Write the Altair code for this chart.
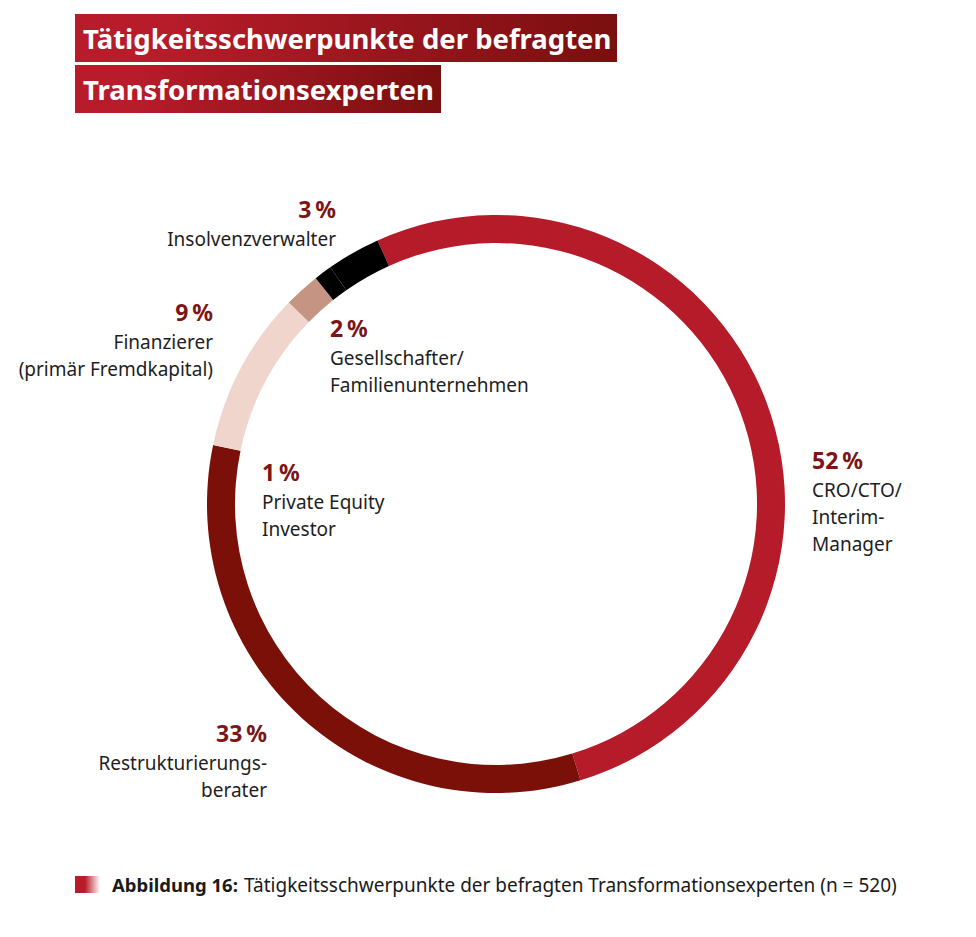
import math
import altair as alt
import pandas as pd

# ---- data -------------------------------------------------------------
categories = [
    "CRO/CTO/Interim-Manager",
    "Restrukturierungsberater",
    "Finanzierer (primär Fremdkapital)",
    "Gesellschafter/Familienunternehmen",
    "Private Equity Investor",
    "Insolvenzverwalter",
]
shares = [52, 33, 9, 2, 1, 3]
label_lines = [
    "CRO/CTO/\nInterim-\nManager",
    "Restrukturierungs-\nberater",
    "Finanzierer\n(primär Fremdkapital)",
    "Gesellschafter/\nFamilienunternehmen",
    "Private Equity\nInvestor",
    "Insolvenzverwalter",
]
slice_colors = ["#B61B29", "#7B1009", "#F0D5CC", "#C69483", "#000000", "#000000"]

title_lines = ["Tätigkeitsschwerpunkte der befragten", "Transformationsexperten"]
caption_bold = "Abbildung 16:"
caption_text = "Tätigkeitsschwerpunkte der befragten Transformationsexperten (n = 520)"

df = pd.DataFrame({
    "cat": categories,
    "share": shares,
    "order": list(range(len(categories))),
    "pct": [f"{s}\u2009%" for s in shares],
    "name": label_lines,
})

# ---- layout (not data) ------------------------------------------------
W, H = 976, 937
CX, CY = 496, 504
R_OUT, R_IN = 289, 261
START = math.radians(335.8)
FONT = "Noto Sans"
PCT_COLOR = "#7D1416"
TXT_COLOR = "#1E1E1E"
RED1, RED2 = "#B81C2B", "#7A0F0F"

anchors = {
    categories[0]: (812, 469, "left"),
    categories[1]: (267, 742, "right"),
    categories[2]: (213, 321, "right"),
    categories[3]: (330, 337, "left"),
    categories[4]: (262, 481, "left"),
    categories[5]: (336, 218, "right"),
}

base = alt.Chart(df)

donut = base.mark_arc(outerRadius=R_OUT, innerRadius=R_IN).encode(
    theta=alt.Theta("share:Q", stack=True,
                    scale=alt.Scale(range=[START, START + 2 * math.pi])),
    color=alt.Color("cat:N", scale=alt.Scale(domain=categories, range=slice_colors),
                    legend=None),
    order=alt.Order("order:Q"),
    x=alt.value(CX),
    y=alt.value(CY),
)

layers = [donut]

for cat, (ax, ay, al) in anchors.items():
    sub = base.transform_filter(alt.datum.cat == cat)
    layers.append(
        sub.mark_text(font=FONT, fontSize=23, fontWeight="bold", color=PCT_COLOR,
                      align=al, baseline="alphabetic").encode(
            x=alt.value(ax), y=alt.value(ay), text="pct:N")
    )
    layers.append(
        sub.mark_text(font=FONT, fontSize=19, color=TXT_COLOR, align=al,
                      baseline="alphabetic", lineBreak="\n", lineHeight=27).encode(
            x=alt.value(ax), y=alt.value(ay + 28), text="name:N")
    )

# title boxes with gradient
grad = alt.Gradient(
    gradient="linear",
    stops=[alt.GradientStop(color=RED1, offset=0),
           alt.GradientStop(color=RED1, offset=0.15),
           alt.GradientStop(color=RED2, offset=1)],
    x1=0, x2=1, y1=0, y2=0,
)
boxes = [(75, 617, 14, 62, 49), (75, 441, 65, 113, 100)]
for i, (x1, x2, y1, y2, yb) in enumerate(boxes):
    tdf = alt.Chart(pd.DataFrame({"t": [title_lines[i]]}))
    layers.append(
        tdf.mark_rect(fill=grad).encode(
            x=alt.value(x1), x2=alt.value(x2), y=alt.value(y1), y2=alt.value(y2))
    )
    layers.append(
        tdf.mark_text(font=FONT, fontSize=27.5, fontWeight="bold", color="white",
                      align="left", baseline="alphabetic").encode(
            x=alt.value(x1 + 8), y=alt.value(yb), text="t:N")
    )

# caption
cap_grad = alt.Gradient(
    gradient="linear",
    stops=[alt.GradientStop(color=RED1, offset=0),
           alt.GradientStop(color=RED1, offset=0.4),
           alt.GradientStop(color="#FFFFFF", offset=1)],
    x1=0, x2=1, y1=0, y2=0,
)
cap = alt.Chart(pd.DataFrame({"b": [caption_bold], "t": [caption_text]}))
layers.append(cap.mark_rect(fill=cap_grad).encode(
    x=alt.value(75), x2=alt.value(100), y=alt.value(876), y2=alt.value(893)))
layers.append(cap.mark_text(font=FONT, fontSize=18.5, fontWeight="bold", color="#1A1A1A",
                            align="left", baseline="alphabetic").encode(
    x=alt.value(112), y=alt.value(892), text="b:N"))
layers.append(cap.mark_text(font=FONT, fontSize=19, color="#1A1A1A",
                            align="left", baseline="alphabetic").encode(
    x=alt.value(244), y=alt.value(892), text="t:N"))

chart = alt.layer(*layers).properties(
    width=W, height=H, padding=0, autosize=alt.AutoSizeParams(type="none"),
    background="white",
).configure_view(stroke=None)

chart.save("out.html", embed_options={"renderer": "svg", "actions": False})
